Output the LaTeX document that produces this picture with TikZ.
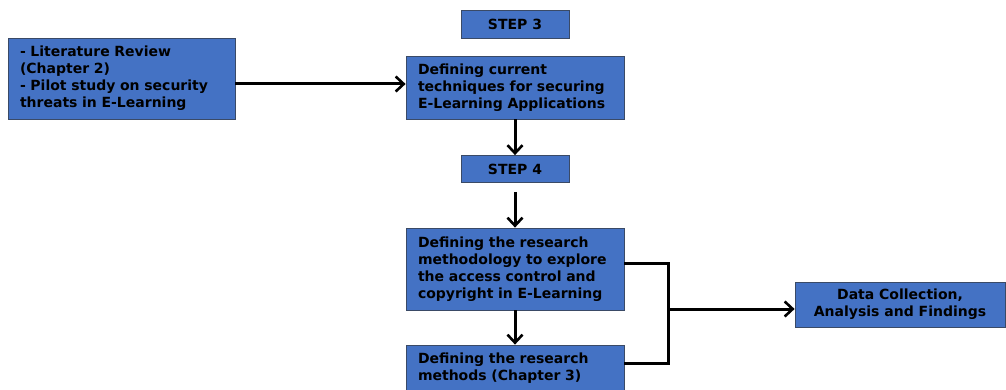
\documentclass[tikz,border=0pt]{standalone}
\usepackage{fontspec}
\setmainfont{DejaVu Sans}
\usetikzlibrary{arrows.meta}
\definecolor{boxfill}{HTML}{4472C4}
\definecolor{boxline}{HTML}{3A4A66}
\begin{document}
\begin{tikzpicture}[x=1pt,y=-1pt,
  box/.style={draw=boxline, line width=0.8pt, fill=boxfill, inner sep=0pt,
    font=\fontsize{14}{17}\selectfont\bfseries, text=black},
  leftbox/.style={box, align=left, text width=#1},
  midbox/.style={box, align=center},
  link/.style={line width=3pt, -{Straight Barb[length=8pt,width=15pt,line width=2.6pt]}},
  wire/.style={line width=3pt, line join=miter}]
\useasboundingbox (0,0) rectangle (1006,390);

\node[leftbox=203pt, minimum width=227pt, minimum height=81pt] (lit) at (121.5,78.5)
  {- Literature Review\\(Chapter 2)\\- Pilot study on security\\threats in E-Learning};
\node[midbox, minimum width=108pt, minimum height=28pt] (step3) at (515,24) {STEP 3};
\node[leftbox=194pt, minimum width=218pt, minimum height=63pt] (cur) at (515,87.5)
  {Defining current\\techniques for securing\\E-Learning Applications};
\node[midbox, minimum width=108pt, minimum height=27pt] (step4) at (515,169) {STEP 4};
\node[leftbox=194pt, minimum width=218pt, minimum height=82pt] (meth) at (515,269)
  {Defining the research\\methodology to explore\\the access control and\\copyright in E-Learning};
\node[leftbox=194pt, minimum width=218pt, minimum height=47pt] (mthd) at (515,368.5)
  {Defining the research\\methods (Chapter 3)};
\node[midbox, minimum width=210pt, minimum height=45pt] (data) at (900,304.5)
  {Data Collection,\\Analysis and Findings};

\draw[link] (lit.east |- 0,84) -- (cur.west |- 0,84);
\draw[link] (cur.south) -- (step4.north);
\draw[link, shorten <=9pt] (step4.south) -- (meth.north);
\draw[link] (meth.south) -- (mthd.north);

\coordinate (jt) at (668,263);
\coordinate (jb) at (668,363);
\coordinate (jm) at (668,309);
\draw[wire] (meth.east |- jt) -- (jt) -- (jb) -- (mthd.east |- jb);
\draw[link] (jm) -- (data.west |- jm);
\end{tikzpicture}
\end{document}
